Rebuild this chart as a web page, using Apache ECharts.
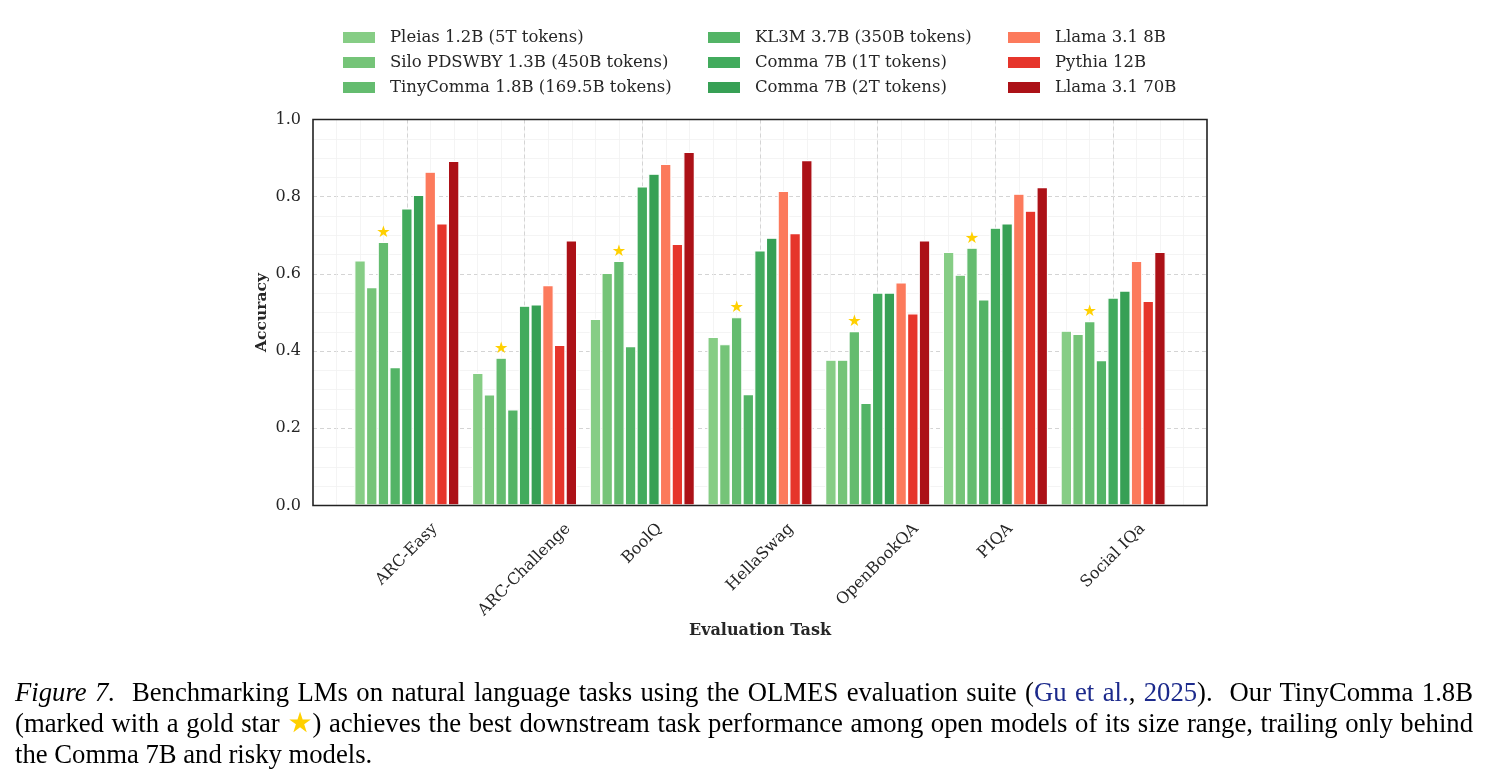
<!DOCTYPE html>
<html>
<head>
<meta charset="utf-8">
<script src="https://cdn.jsdelivr.net/npm/echarts@6/dist/echarts.min.js"></script>
<style>
  html, body { margin: 0; padding: 0; background: #fff; }
  #chart { width: 1489px; height: 784px; }
</style>
</head>
<body>
<div id="chart"></div>
<script>
const categories = ['ARC-Easy', 'ARC-Challenge', 'BoolQ', 'HellaSwag', 'OpenBookQA', 'PIQA', 'Social IQa']
const modelNames = [
  'Pleias 1.2B (5T tokens)', 'Silo PDSWBY 1.3B (450B tokens)', 'TinyComma 1.8B (169.5B tokens)',
  'KL3M 3.7B (350B tokens)', 'Comma 7B (1T tokens)', 'Comma 7B (2T tokens)',
  'Llama 3.1 8B', 'Pythia 12B', 'Llama 3.1 70B'
]
const pleias = [0.635, 0.344, 0.484, 0.437, 0.378, 0.657, 0.453]
const silo = [0.566, 0.288, 0.603, 0.418, 0.378, 0.598, 0.445]
const tinyComma = [0.683, 0.383, 0.634, 0.488, 0.452, 0.668, 0.478]
const kl3m = [0.359, 0.249, 0.413, 0.289, 0.266, 0.534, 0.377]
const comma1T = [0.770, 0.518, 0.827, 0.661, 0.552, 0.720, 0.539]
const comma2T = [0.805, 0.521, 0.860, 0.694, 0.552, 0.731, 0.557]
const llama8B = [0.865, 0.571, 0.885, 0.815, 0.578, 0.808, 0.634]
const pythia12B = [0.731, 0.416, 0.678, 0.706, 0.498, 0.764, 0.530]
const llama70B = [0.893, 0.687, 0.916, 0.895, 0.687, 0.825, 0.657]

const seriesValues = [pleias, silo, tinyComma, kl3m, comma1T, comma2T, llama8B, pythia12B, llama70B]
const colors = ['#86cd85', '#75c478', '#64bc6f', '#53b466', '#42ab5d', '#37a055', '#fc7a5c', '#e6352b', '#ac1117']
const starModel = 2

const serif = '"DejaVu Serif", serif'
const textColor = '#262626'
const tickFontSize = 16

const ctx = document.createElement('canvas').getContext('2d')
ctx.font = tickFontSize + 'px "DejaVu Serif"'
const labelWidths = categories.map(c => ctx.measureText(c).width)

const chart = echarts.init(document.getElementById('chart'))

const series = seriesValues.map((vals, i) => ({
  name: modelNames[i],
  type: 'bar',
  xAxisIndex: 1,
  yAxisIndex: 1,
  data: vals,
  barWidth: 11.7,
  barGap: '0%',
  itemStyle: { color: colors[i], borderColor: '#fff', borderWidth: 1.2 },
  label: i === starModel ? {
    show: true,
    position: 'top',
    distance: 1,
    formatter: '★',
    color: '#ffd000',
    fontSize: 16,
    fontFamily: '"DejaVu Sans"'
  } : { show: false },
  emphasis: { disabled: true }
}))

// x tick labels, rotated 45deg and centred under each tick (matplotlib ha=center)
series.push({
  type: 'custom',
  xAxisIndex: 1,
  yAxisIndex: 1,
  clip: false,
  silent: true,
  data: categories.map((c, i) => [i, 0]),
  renderItem: (params, api) => {
    const i = params.dataIndex
    const p = api.coord([api.value(0), 0])
    const w = labelWidths[i]
    return {
      type: 'text',
      x: p[0],
      y: p[1] + 16.5 + 0.354 * (w + 12),
      rotation: Math.PI / 4,
      style: {
        text: categories[i], align: 'center', verticalAlign: 'middle',
        fontFamily: serif, fontSize: tickFontSize, fill: textColor
      }
    }
  }
})

const legendCol = (left, names) => ({
  orient: 'vertical',
  left: left,
  top: 29,
  padding: 0,
  itemWidth: 32,
  itemHeight: 11,
  itemGap: 8,
  icon: 'rect',
  data: names,
  itemStyle: { borderWidth: 0 },
  textStyle: { fontFamily: serif, fontSize: 16.5, color: textColor, lineHeight: 16, padding: [0, 0, 0, 10] }
})

// caption, justified like the paper
const capFamily = '"Liberation Serif", "Times New Roman", serif'
const capSize = 26.7
const capFonts = {
  n: capSize + 'px "Liberation Serif"',
  it: 'italic ' + capSize + 'px "Liberation Serif"',
  ln: capSize + 'px "Liberation Serif"',
  st: '28px "DejaVu Sans"'
}
const capRich = {
  n: { fontSize: capSize, fontFamily: capFamily, fill: '#000' },
  it: { fontStyle: 'italic', fontSize: capSize, fontFamily: capFamily, fill: '#000' },
  ln: { fontSize: capSize, fontFamily: capFamily, fill: '#1c2a8c' },
  st: { fontSize: 28, fontFamily: '"DejaVu Sans"', fill: '#ffd000' }
}
const capLines = [
  [['it', 'Figure 7.'], ['n', '  Benchmarking LMs on natural language tasks using the OLMES evaluation suite ('], ['ln', 'Gu et al.'], ['n', ', '], ['ln', '2025'], ['n', ').  Our TinyComma 1.8B']],
  [['n', '(marked with a gold star '], ['st', '★'], ['n', ') achieves the best downstream task performance among open models of its size range, trailing only behind']],
  [['n', 'the Comma 7B and risky models.']]
]
const capWidth = 1458
function buildLine (pieces, justify) {
  let natural = 0
  let spaces = 0
  pieces.forEach(([s, t]) => {
    ctx.font = capFonts[s]
    natural += ctx.measureText(t.replace(/ /g, '')).width
    spaces += (t.match(/ /g) || []).length
  })
  ctx.font = capFonts.n
  const sw = ctx.measureText(' ').width
  const gap = justify ? (capWidth - natural) / spaces : sw
  const text = pieces.map(([s, t]) => t.split(' ').map(wd => wd ? `{${s}|${wd}}` : '').join('{g| }')).join('')
  return { text, rich: Object.assign({ g: { width: gap, fontSize: capSize, fontFamily: capFamily } }, capRich) }
}

const option = {
  backgroundColor: '#fff',
  animation: false,
  legend: [
    legendCol(343, modelNames.slice(0, 3)),
    legendCol(708, modelNames.slice(3, 6)),
    legendCol(1008, modelNames.slice(6, 9))
  ],
  grid: [
    { left: 313, top: 119.5, width: 894, height: 386, z: 3, show: true, borderColor: '#222', borderWidth: 1.6, backgroundColor: 'transparent' },
    { left: 348, top: 119.5, width: 824, height: 386 }
  ],
  xAxis: [
    {
      gridIndex: 0, type: 'value', min: -0.8, max: 6.8, interval: 0.2, z: 0,
      axisLine: { show: false }, axisTick: { show: false }, axisLabel: { show: false },
      splitLine: { show: true, showMinLine: false, showMaxLine: false, lineStyle: { color: '#f1f1f1', width: 0.8 } }
    },
    {
      gridIndex: 1, type: 'category', data: categories,
      name: 'Evaluation Task', nameLocation: 'middle', nameGap: 117,
      nameTextStyle: { fontFamily: serif, fontSize: 16, fontWeight: 'bold', color: textColor },
      axisLine: { show: false }, axisTick: { show: false }, axisLabel: { show: false },
      splitLine: { show: true, alignWithLabel: true, lineStyle: { color: '#d4d4d4', type: [4, 3], width: 1 } }
    }
  ],
  yAxis: [
    {
      gridIndex: 0, type: 'value', min: 0, max: 1, interval: 0.2, z: 0,
      name: 'Accuracy', nameLocation: 'middle', nameGap: 43, nameMoveOverlap: false,
      nameTextStyle: { fontFamily: serif, fontSize: 15.5, fontWeight: 'bold', color: textColor },
      axisLine: { show: false }, axisTick: { show: false },
      axisLabel: { margin: 12, fontFamily: serif, fontSize: 16, color: textColor, formatter: v => v.toFixed(1) },
      splitLine: { show: true, showMinLine: false, showMaxLine: false, lineStyle: { color: '#d4d4d4', type: [4, 3], width: 1 } },
      minorTick: { show: false, splitNumber: 4 },
      minorSplitLine: { show: true, lineStyle: { color: '#f1f1f1', width: 0.8 } }
    },
    {
      gridIndex: 1, type: 'value', min: 0, max: 1,
      axisLine: { show: false }, axisTick: { show: false }, axisLabel: { show: false }, splitLine: { show: false }
    }
  ],
  graphic: capLines.map((pieces, i) => {
    const line = buildLine(pieces, i < 2)
    return {
      type: 'text',
      left: 15,
      top: 680 + i * 31,
      style: { text: line.text, rich: line.rich, fontSize: capSize, fontFamily: capFamily, fill: '#000' }
    }
  }),
  series: series
}
chart.setOption(option)
</script>
</body>
</html>
